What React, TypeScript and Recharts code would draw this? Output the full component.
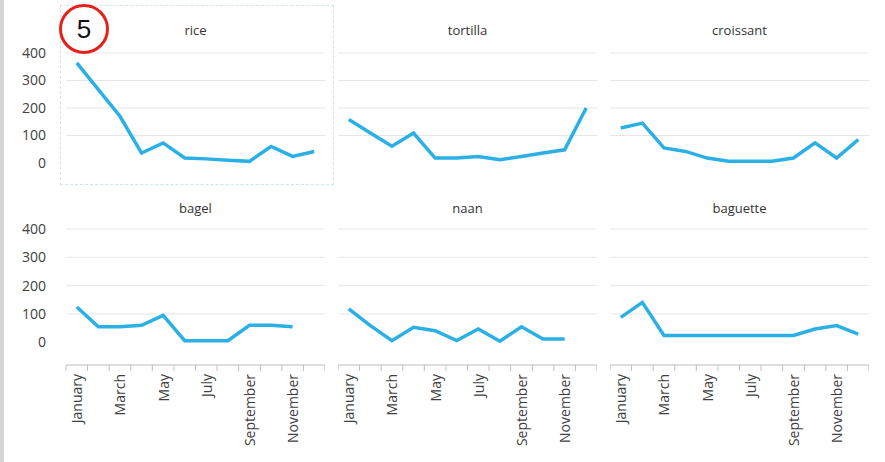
import { CartesianGrid, Line, LineChart, XAxis, YAxis } from 'recharts';

const MONTHS = [
  'January', 'February', 'March', 'April', 'May', 'June',
  'July', 'August', 'September', 'October', 'November', 'December',
];
const RICE = [364, 267, 170, 36, 73, 18, 15, 10, 6, 60, 24, 42];
const TORTILLA = [158, 109, 61, 109, 18, 18, 24, 12, 24, 36, 48, 200];
const CROISSANT = [127, 145, 55, 42, 18, 6, 6, 6, 18, 73, 18, 85];
const BAGEL = [125, 55, 55, 60, 95, 6, 6, 6, 60, 60, 55, null];
const NAAN = [118, 59, 6, 53, 41, 6, 47, 4, 55, 12, 12, null];
const BAGUETTE = [88, 141, 24, 24, 24, 24, 24, 24, 24, 47, 59, 29];
const Y_TICKS = [0, 100, 200, 300, 400];
const GRID_VALUES = [100, 200, 300, 400];

const LINE_COLOR = '#2bb0e6';
const TEXT_COLOR = '#404040';
const FONT = '"Open Sans", "Liberation Sans", Arial, sans-serif';

const PLOT_W = 259;
const HALF_BAND = PLOT_W / MONTHS.length / 2;

type Panel = {
  title: string;
  values: (number | null)[];
  col: number;
  row: number;
};

const PANELS: Panel[] = [
  { title: 'rice', values: RICE, col: 0, row: 0 },
  { title: 'tortilla', values: TORTILLA, col: 1, row: 0 },
  { title: 'croissant', values: CROISSANT, col: 2, row: 0 },
  { title: 'bagel', values: BAGEL, col: 0, row: 1 },
  { title: 'naan', values: NAAN, col: 1, row: 1 },
  { title: 'baguette', values: BAGUETTE, col: 2, row: 1 },
];

// plot-area left edge per column, plot top/height per row
const COL_X = [66, 338, 610];
const ROW_TOP = [53, 229];
const ROW_PLOT_H = [132, 136];
const TITLE_Y = [30, 208];
const Y_AXIS_W = 50;
const X_AXIS_H = 95;
const PAD_TOP = 10;

function MonthTick(props: any) {
  const { x, y, index } = props;
  const last = index === MONTHS.length - 1;
  return (
    <g>
      <line x1={x - HALF_BAND} x2={x - HALF_BAND} y1={y} y2={y + 6} stroke="#bfbfbf" />
      {last && <line x1={x + HALF_BAND} x2={x + HALF_BAND} y1={y} y2={y + 6} stroke="#bfbfbf" />}
      {index % 2 === 0 && (
        <text
          transform={`translate(${x},${y + 9}) rotate(-90)`}
          textAnchor="end"
          dominantBaseline="central"
          fontSize={14}
          fill={TEXT_COLOR}
          fontFamily={FONT}
        >
          {props.payload.value}
        </text>
      )}
    </g>
  );
}

function SmallChart({ panel }: { panel: Panel }) {
  const data = MONTHS.map((m, i) => ({ month: m, value: panel.values[i] }));
  const showY = panel.col === 0;
  const showX = panel.row === 1;
  const left = COL_X[panel.col] - (showY ? Y_AXIS_W : 0);
  const width = PLOT_W + (showY ? Y_AXIS_W : 0);
  const height = PAD_TOP + ROW_PLOT_H[panel.row] + (showX ? X_AXIS_H : 0);
  return (
    <div style={{ position: 'absolute', left, top: ROW_TOP[panel.row] - PAD_TOP }}>
      <LineChart width={width} height={height} data={data} margin={{ top: PAD_TOP, right: 0, left: 0, bottom: 0 }}>
        <CartesianGrid vertical={false} stroke="#e6e6e6" horizontalValues={GRID_VALUES} />
        <XAxis
          dataKey="month"
          hide={!showX}
          height={X_AXIS_H}
          interval={0}
          padding={{ left: HALF_BAND, right: HALF_BAND }}
          axisLine={{ stroke: '#bfbfbf' }}
          tickLine={false}
          tickSize={0}
          tickMargin={0}
          tick={<MonthTick />}
        />
        <YAxis
          hide={!showY}
          width={Y_AXIS_W}
          domain={[-80, 400]}
          ticks={Y_TICKS}
          interval={0}
          axisLine={false}
          tickLine={false}
          tickSize={0}
          tickMargin={20}
          tick={{ fontSize: 14, fill: TEXT_COLOR, fontFamily: FONT }}
        />
        <Line
          type="linear"
          dataKey="value"
          stroke={LINE_COLOR}
          strokeWidth={3.5}
          dot={false}
          isAnimationActive={false}
        />
      </LineChart>
    </div>
  );
}

export default function App() {
  return (
    <div
      style={{
        position: 'absolute',
        left: 0,
        top: 0,
        width: 885,
        height: 462,
        background: '#ffffff',
        overflow: 'hidden',
        fontFamily: FONT,
      }}
    >
      <div style={{ position: 'absolute', left: 0, top: 0, width: 4, height: 462, background: '#d4d4d4' }} />
      <div
        style={{
          position: 'absolute',
          left: 60,
          top: 5,
          width: 272,
          height: 178,
          border: '1px dashed #d3e3ee',
        }}
      />
      {PANELS.map((p) => (
        <div
          key={p.title + '-t'}
          style={{
            position: 'absolute',
            left: COL_X[p.col],
            width: PLOT_W,
            top: TITLE_Y[p.row] - 9,
            height: 18,
            lineHeight: '18px',
            textAlign: 'center',
            fontSize: 13,
            color: '#333333',
          }}
        >
          {p.title}
        </div>
      ))}
      {PANELS.map((p) => (
        <SmallChart key={p.title} panel={p} />
      ))}
      <div
        style={{
          position: 'absolute',
          left: 59,
          top: 4,
          width: 44,
          height: 44,
          borderRadius: '50%',
          border: '3px solid #e3231b',
          background: '#ffffff',
          textAlign: 'center',
          lineHeight: '44px',
          fontSize: 26,
          color: '#111111',
          fontFamily: '"Liberation Sans", Arial, sans-serif',
        }}
      >
        5
      </div>
    </div>
  );
}
